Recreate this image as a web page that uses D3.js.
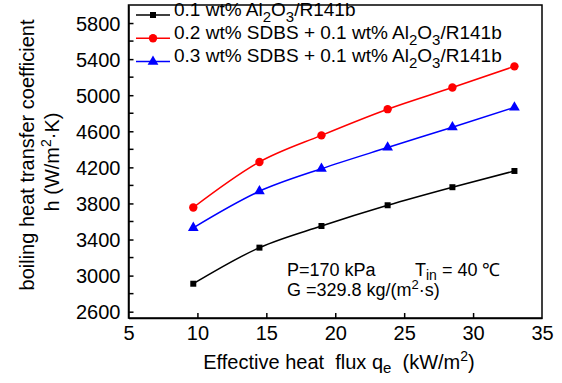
<!DOCTYPE html>
<html>
<head>
<meta charset="utf-8">
<script src="https://cdn.jsdelivr.net/npm/d3@7"></script>
<style>
  body { margin: 0; background: #fff; }
  svg { font-family: "Liberation Sans", Arial, sans-serif; }
  .axis path, .axis line { stroke: #000; stroke-width: 1.5; }
  .axis text { font-size: 20px; fill: #000; }
  .pre { white-space: pre; }
</style>
</head>
<body>
<svg id="chart" width="562" height="383"></svg>
<script>
// heat flux q_e (kW/m2)
const heatFlux = [9.7, 14.5, 19.0, 23.8, 28.5, 33.0];
// boiling heat transfer coefficient h (W/m2.K)
const hAl2O3 = [2910, 3310, 3550, 3780, 3980, 4160];
const hSdbs02 = [3755, 4260, 4555, 4845, 5085, 5320];
const hSdbs03 = [3530, 3935, 4185, 4420, 4645, 4865];
const xTicks = [5, 10, 15, 20, 25, 30, 35];
const yTicks = [2600, 3000, 3400, 3800, 4200, 4600, 5000, 5400, 5800];
const yMinorTicks = [2800, 3200, 3600, 4000, 4400, 4800, 5200, 5600];

const series = [
    { name: "al", values: hAl2O3, color: "#000000", symbol: d3.symbolSquare, size: 36 },
    { name: "s02", values: hSdbs02, color: "#ff0000", symbol: d3.symbolCircle, size: 55 },
    { name: "s03", values: hSdbs03, color: "#0000ff", symbol: d3.symbolTriangle, size: 50 }
];

const svg = d3.select("#chart");
const margin = { left: 128.5, right: 20, top: 5, bottom: 65 };
const width = 562 - margin.left - margin.right;
const height = 383 - margin.top - margin.bottom;

const x = d3.scaleLinear().domain([5, 35]).range([0, width]);
const y = d3.scaleLinear().domain([2530, 6000]).range([height, 0]);

const g = svg.append("g").attr("transform", `translate(${margin.left},${margin.top})`);

// axes with inward ticks
const xAxis = g.append("g").attr("class", "axis")
    .attr("transform", `translate(0,${height})`)
    .call(d3.axisBottom(x).tickValues(xTicks).tickSize(-5).tickPadding(8).tickSizeOuter(0));
xAxis.selectAll(".tick line").filter(d => d === 5 || d === 35).remove();

const yAxis = g.append("g").attr("class", "axis")
    .call(d3.axisLeft(y).tickValues(yTicks).tickFormat(d3.format("d"))
        .tickSize(-5).tickPadding(8).tickSizeOuter(0));
yAxis.selectAll(".tick text").attr("dy", "0.36em");

g.append("g").selectAll("line").data(yMinorTicks).join("line")
    .attr("x1", 0).attr("x2", 5)
    .attr("y1", d => y(d)).attr("y2", d => y(d))
    .attr("stroke", "#000").attr("stroke-width", 1.5);

// frame
g.append("rect").attr("width", width).attr("height", height)
    .attr("fill", "none").attr("stroke", "#000").attr("stroke-width", 1.5);

// lines and markers
const line = d3.line()
    .x((d, i) => x(heatFlux[i]))
    .y(d => y(d))
    .curve(d3.curveMonotoneX);

series.forEach(s => {
    g.append("path").datum(s.values)
        .attr("d", line)
        .attr("fill", "none")
        .attr("stroke", s.color)
        .attr("stroke-width", 1.5);
    g.append("g").selectAll("path").data(s.values).join("path")
        .attr("transform", (d, i) => `translate(${x(heatFlux[i])},${y(d)})`)
        .attr("d", d3.symbol().type(s.symbol).size(s.size))
        .attr("fill", s.color);
});

// legend
const legendRows = [
    [["0.1 wt% Al"], ["2", "sub"], ["O"], ["3", "sub"], ["/R141b"]],
    [["0.2 wt% SDBS + 0.1 wt% Al"], ["2", "sub"], ["O"], ["3", "sub"], ["/R141b"]],
    [["0.3 wt% SDBS + 0.1 wt% Al"], ["2", "sub"], ["O"], ["3", "sub"], ["/R141b"]]
];
const legend = svg.append("g").attr("transform", "translate(136,15)");
series.forEach((s, i) => {
    const row = legend.append("g").attr("transform", `translate(0,${i * 23.3})`);
    row.append("line").attr("x1", 0).attr("x2", 34)
        .attr("stroke", s.color).attr("stroke-width", 1.5);
    row.append("path").attr("transform", "translate(17,0)")
        .attr("d", d3.symbol().type(s.symbol).size(s.size)).attr("fill", s.color);
    const t = row.append("text").attr("x", 38).attr("y", 6.5)
        .attr("font-size", 19).attr("fill", "#000");
    legendRows[i].forEach(([txt, kind]) => {
        if (kind === "sub") {
            t.append("tspan").attr("font-size", 15).attr("dy", 6).text(txt);
        } else {
            t.append("tspan").attr("dy", t.node().childNodes.length ? -6 : 0).text(txt);
        }
    });
});

// annotations
const ann = svg.append("g").attr("font-size", 18).attr("fill", "#000");
ann.append("text").attr("x", 287).attr("y", 276).text("P=170 kPa");
const tin = ann.append("text").attr("x", 415).attr("y", 276);
tin.append("tspan").text("T");
tin.append("tspan").attr("font-size", 14).attr("dy", 4).text("in");
tin.append("tspan").attr("dy", -4).text(" = 40 \u2103");
const gt = ann.append("text").attr("x", 287).attr("y", 296);
gt.append("tspan").text("G =329.8 kg/(m");
gt.append("tspan").attr("font-size", 13).attr("dy", -7).text("2");
gt.append("tspan").attr("dy", 7).text("\u00b7s)");

// axis titles
const xt = svg.append("text").attr("class", "pre").attr("x", 339).attr("y", 369)
    .attr("text-anchor", "middle").attr("font-size", 20);
xt.append("tspan").text("Effective heat  flux q");
xt.append("tspan").attr("font-size", 15).attr("dy", 4).text("e");
xt.append("tspan").attr("dy", -4).text("  (kW/m");
xt.append("tspan").attr("font-size", 14).attr("dy", -8).text("2");
xt.append("tspan").attr("dy", 8).text(")");

const yt = svg.append("text").attr("transform", "translate(34,155) rotate(-90)")
    .attr("text-anchor", "middle").attr("font-size", 20);
yt.append("tspan").attr("x", 0).attr("y", 0).text("boiling heat transfer coefficient");
const yt2 = svg.append("text").attr("transform", "translate(59,162) rotate(-90)")
    .attr("text-anchor", "middle").attr("font-size", 20);
yt2.append("tspan").text("h (W/m");
yt2.append("tspan").attr("font-size", 14).attr("dy", -8).text("2");
yt2.append("tspan").attr("dy", 8).text("\u00b7K)");
</script>
</body>
</html>
